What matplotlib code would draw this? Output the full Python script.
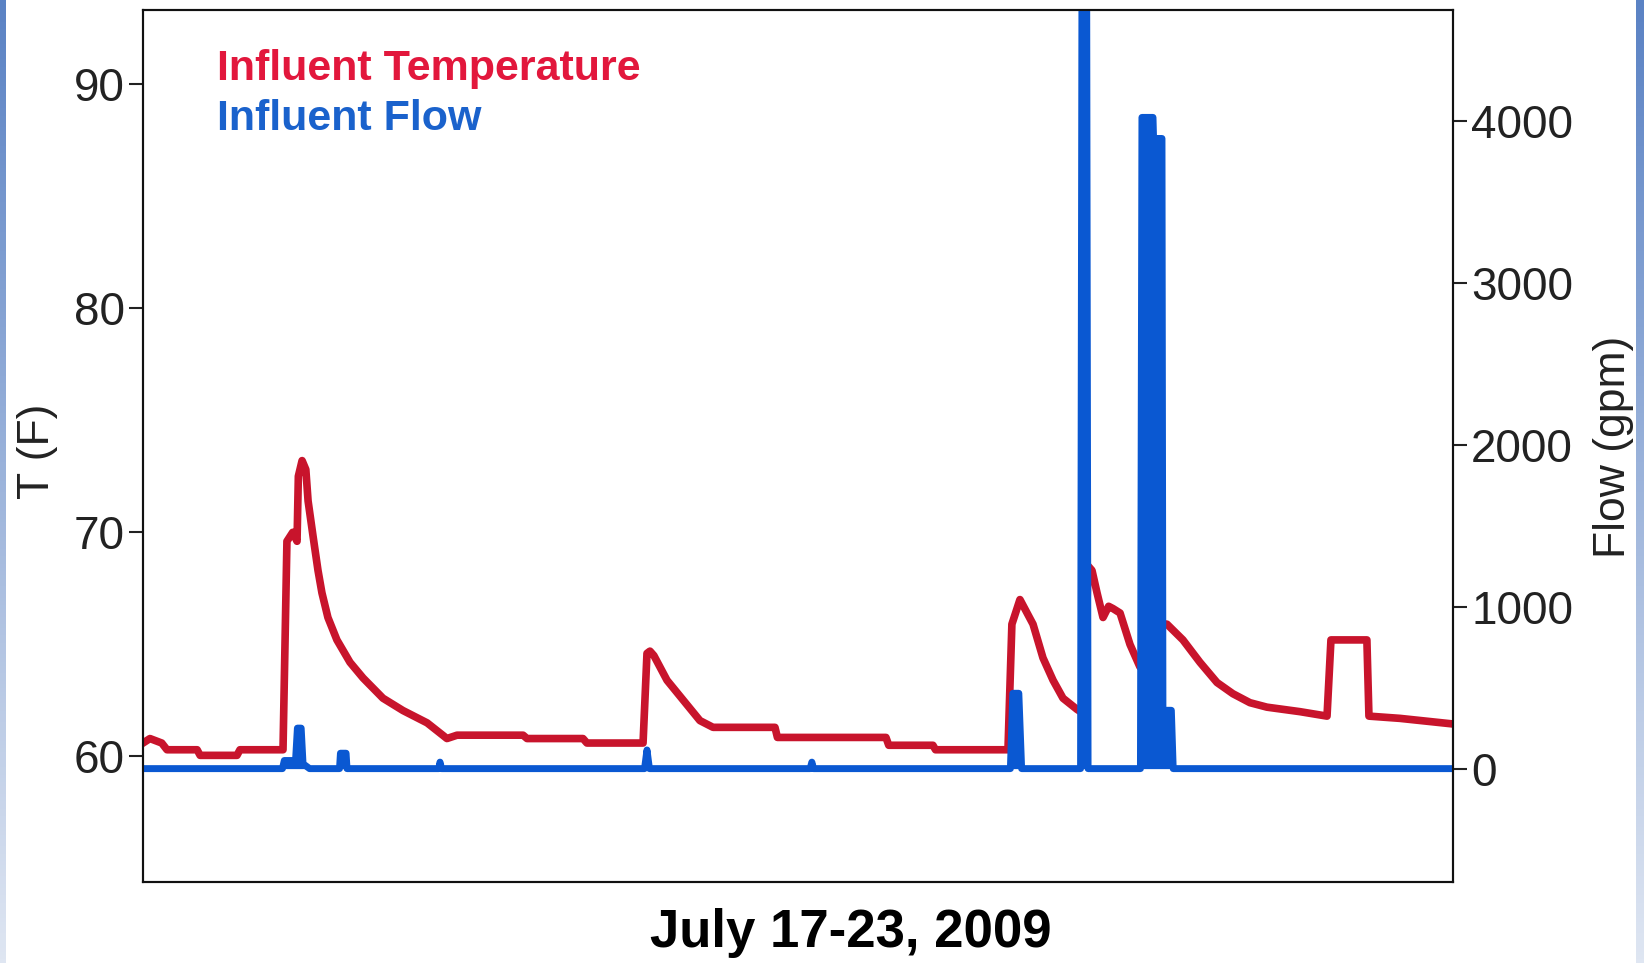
import numpy as np
import matplotlib.pyplot as plt
from matplotlib.colors import LinearSegmentedColormap

# time in days since start of July 17
DAYS_T = [0.0, 0.037, 0.10, 0.128, 0.289, 0.305, 0.502, 0.518, 0.748, 0.769,
          0.800, 0.823, 0.830, 0.850, 0.870, 0.882, 0.909, 0.935, 0.956, 0.988,
          1.036, 1.106, 1.176, 1.282, 1.389, 1.518, 1.603, 1.624, 1.678, 2.031,
          2.052, 2.351, 2.372, 2.672, 2.693, 2.709, 2.730, 2.800, 2.976, 3.046,
          3.377, 3.390, 3.970, 3.985, 4.221, 4.235, 4.622, 4.643, 4.686, 4.756,
          4.809, 4.863, 4.916, 4.991, 5.028, 5.050, 5.071, 5.098, 5.130, 5.160,
          5.183, 5.221, 5.274, 5.327, 5.400, 5.472, 5.557, 5.648, 5.739, 5.824,
          5.915, 6.006, 6.182, 6.327, 6.348, 6.540, 6.551, 6.717, 7.0]
TEMP_F = [60.6, 60.8, 60.6, 60.3, 60.3, 60.05, 60.05, 60.3, 60.3, 69.6,
          70.0, 69.6, 72.5, 73.2, 72.8, 71.4, 69.8, 68.3, 67.3, 66.2,
          65.2, 64.2, 63.5, 62.6, 62.05, 61.5, 60.94, 60.8, 60.95, 60.95,
          60.8, 60.8, 60.6, 60.6, 64.6, 64.7, 64.5, 63.4, 61.6, 61.3,
          61.3, 60.85, 60.85, 60.5, 60.5, 60.3, 60.3, 65.9, 67.0, 65.9,
          64.4, 63.4, 62.6, 62.1, 61.9, 68.5, 68.3, 67.3, 66.2, 66.7,
          66.6, 66.4, 65.0, 64.0, 66.0, 65.9, 65.2, 64.2, 63.3, 62.8,
          62.4, 62.2, 62.0, 61.8, 65.2, 65.2, 61.8, 61.7, 61.45]

DAYS_Q = [0.0, 0.745, 0.755, 0.815, 0.825, 0.845, 0.855, 0.89, 1.05, 1.055,
          1.085, 1.09, 1.58, 1.587, 1.595, 2.68, 2.693, 2.706, 3.565, 3.574,
          3.583, 4.635, 4.648, 4.680, 4.695, 5.010, 5.018, 5.042, 5.050, 5.330,
          5.338, 5.397, 5.400, 5.445, 5.450, 5.495, 5.505, 7.0]
FLOW_GPM = [0, 0, 50, 50, 250, 250, 30, 0, 0, 95,
            95, 0, 0, 40, 0, 0, 115, 0, 0, 40,
            0, 0, 465, 465, 0, 0, 5200, 5200, 0, 0,
            4020, 4020, 3890, 3890, 360, 360, 0, 0]

T_TICKS = [60, 70, 80, 90]
Q_TICKS = [0, 1000, 2000, 3000, 4000]

RED = "#c8142c"
BLUE = "#0a58d2"
TEXT_RED = "#e2173c"
TEXT_BLUE = "#1a62cc"
GRAY = "#222222"

plt.rcParams["font.family"] = ["Liberation Sans", "DejaVu Sans"]

fig = plt.figure(figsize=(16.44, 9.63), dpi=100)

# slide background strips on the edges
grad = LinearSegmentedColormap.from_list("edge", ["#5a82c4", "#dfe6f2"])
for x0, w in [(0, 5 / 1644), (1 - 8 / 1644, 8 / 1644)]:
    bax = fig.add_axes([x0, 0, w, 1])
    bax.imshow(np.linspace(0, 1, 256).reshape(-1, 1), aspect="auto", cmap=grad)
    bax.axis("off")

ax = fig.add_axes([0.0870, 0.0841, 0.7968, 0.9055])
ax2 = ax.twinx()

ax.plot(DAYS_T, TEMP_F, color=RED, lw=5.5)
ax2.plot(DAYS_Q, FLOW_GPM, color=BLUE, lw=5)
ax2.fill_between(DAYS_Q, 0, FLOW_GPM, color=BLUE, lw=0)

ax.set_xlim(0, 7)
ax.set_ylim(54.4, 93.3)
ax2.set_ylim(-700, 4683)
ax.set_xticks([])
ax.set_yticks(T_TICKS)
ax2.set_yticks(Q_TICKS)

for a in (ax, ax2):
    a.tick_params(direction="out", length=10, width=1.5, labelsize=33,
                  colors=GRAY, pad=3)
    for s in a.spines.values():
        s.set_linewidth(1.5)
        s.set_color("#111111")

fig.text(37 / 1644, 1 - 451 / 963, "T (F)", rotation=90, ha="center",
         va="center", fontsize=32, color=GRAY)
fig.text(1613 / 1644, 1 - 447 / 963, "Flow (gpm)", rotation=90, ha="center",
         va="center", fontsize=32, color=GRAY)
fig.text(851 / 1644, 1 - 933 / 963, "July 17-23, 2009", ha="center",
         va="center", fontsize=38, fontweight="bold", color="black")

ax.text(217 / 1644, 1 - 80 / 963, "Influent Temperature", transform=fig.transFigure,
        fontsize=31, fontweight="bold", color=TEXT_RED, ha="left", va="baseline")
ax.text(217 / 1644, 1 - 130 / 963, "Influent Flow", transform=fig.transFigure,
        fontsize=31, fontweight="bold", color=TEXT_BLUE, ha="left", va="baseline")

fig.savefig("out.png", dpi=100)
